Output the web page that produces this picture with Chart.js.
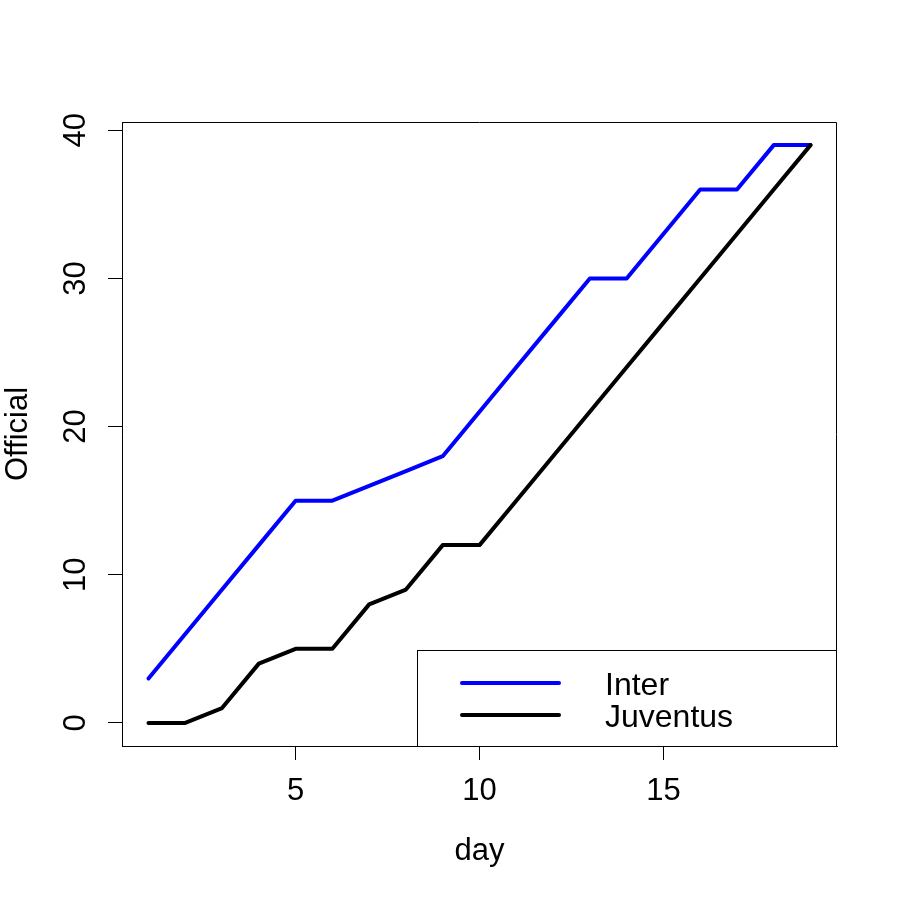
<!DOCTYPE html>
<html>
<head>
<meta charset="utf-8">
<script src="https://cdn.jsdelivr.net/npm/chart.js@4/dist/chart.umd.min.js"></script>
<style>
  html, body { margin: 0; padding: 0; background: #ffffff; }
  #wrap { width: 900px; height: 900px; }
</style>
</head>
<body>
<div id="wrap"><canvas id="c" width="900" height="900"></canvas></div>
<script>
// ---- data ----
const days = [1, 2, 3, 4, 5, 6, 7, 8, 9, 10, 11, 12, 13, 14, 15, 16, 17, 18, 19];
const interPoints = [3, 6, 9, 12, 15, 15, 16, 17, 18, 21, 24, 27, 30, 30, 33, 36, 36, 39, 39];
const juventusPoints = [0, 0, 1, 4, 5, 5, 8, 9, 12, 12, 15, 18, 21, 24, 27, 30, 33, 36, 39];
const seriesNames = ['Inter', 'Juventus'];
const xTickValues = [5, 10, 15];
const yTickValues = [0, 10, 20, 30, 40];
const xAxisTitle = 'day';
const yAxisTitle = 'Official';

// ---- style ----
const FONT = '"Liberation Sans", Arial, Helvetica, sans-serif';
const axisFont = { family: FONT, size: 31 };

// R-style 4% range extension
function extend(lo, hi) { const d = (hi - lo) * 0.04; return [lo - d, hi + d]; }
const xr = extend(Math.min(...days), Math.max(...days));
const allY = interPoints.concat(juventusPoints);
const yr = extend(Math.min(...allY), Math.max(...allY));

const boxPlugin = {
  id: 'rbox',
  afterDatasetsDraw(chart) {
    const { ctx, chartArea: ca } = chart;
    ctx.save();
    ctx.strokeStyle = '#000';
    ctx.lineWidth = 1;
    ctx.beginPath();
    const l = Math.round(ca.left) + 0.5, t = Math.round(ca.top) + 0.5;
    const r = Math.round(ca.right) - 0.5, b = Math.round(ca.bottom) + 0.5;
    ctx.rect(l, t, r - l, b - t);
    ctx.stroke();
    ctx.restore();
  }
};

const legendPlugin = {
  id: 'rlegend',
  afterDraw(chart) {
    const { ctx, chartArea: ca } = chart;
    const w = 420, h = 96;
    const left = Math.round(ca.right) - w, top = Math.round(ca.bottom) - h;
    ctx.save();
    ctx.strokeStyle = '#000';
    ctx.lineWidth = 1;
    ctx.strokeRect(left + 0.5, top + 0.5, w - 1, h);
    chart.data.datasets.forEach((ds, i) => {
      const y = top + 33 + i * 32;
      ctx.strokeStyle = ds.borderColor;
      ctx.lineWidth = 4;
      ctx.lineCap = 'round';
      ctx.beginPath();
      ctx.moveTo(left + 45, y);
      ctx.lineTo(left + 142, y);
      ctx.stroke();
      ctx.fillStyle = '#000';
      ctx.font = '32px ' + FONT;
      ctx.textBaseline = 'alphabetic';
      ctx.textAlign = 'left';
      ctx.fillText(ds.label, left + 188, y + 12);
    });
    ctx.restore();
  }
};

const ctx = document.getElementById('c').getContext('2d');
new Chart(ctx, {
  type: 'line',
  data: {
    datasets: [
      {
        label: seriesNames[0],
        data: days.map((d, i) => ({ x: d, y: interPoints[i] })),
        borderColor: '#0000ff',
        backgroundColor: '#0000ff',
        borderWidth: 4,
        pointRadius: 0,
        tension: 0,
        borderCapStyle: 'round',
        borderJoinStyle: 'round',
        fill: false,
        order: 1
      },
      {
        label: seriesNames[1],
        data: days.map((d, i) => ({ x: d, y: juventusPoints[i] })),
        borderColor: '#000000',
        backgroundColor: '#000000',
        borderWidth: 4,
        pointRadius: 0,
        tension: 0,
        borderCapStyle: 'round',
        borderJoinStyle: 'round',
        fill: false,
        order: 0
      }
    ]
  },
  options: {
    responsive: false,
    animation: false,
    devicePixelRatio: 1,
    layout: { padding: { top: 122, right: 63, left: 0, bottom: 0 } },
    plugins: { legend: { display: false }, tooltip: { enabled: false } },
    scales: {
      x: {
        type: 'linear',
        min: xr[0],
        max: xr[1],
        afterBuildTicks: s => { s.ticks = xTickValues.map(v => ({ value: v })); },
        afterFit: s => { s.height = 154; },
        grid: { display: true, drawOnChartArea: false, drawTicks: true, tickLength: 14, color: '#000', lineWidth: 1 },
        border: { display: true, color: '#000', width: 1 },
        ticks: { font: axisFont, color: '#000', padding: 13, maxRotation: 0, minRotation: 0, autoSkip: false },
        title: { display: true, text: xAxisTitle, font: axisFont, color: '#000', padding: { top: 0, bottom: 30 } }
      },
      y: {
        type: 'linear',
        min: yr[0],
        max: yr[1],
        afterBuildTicks: s => { s.ticks = yTickValues.map(v => ({ value: v })); },
        afterFit: s => { s.width = 122; },
        grid: { display: true, drawOnChartArea: false, drawTicks: true, tickLength: 14, color: '#000', lineWidth: 1 },
        border: { display: true, color: '#000', width: 1 },
        ticks: { font: axisFont, color: '#000', padding: 14, minRotation: 90, maxRotation: 90, crossAlign: 'center', autoSkip: false },
        title: { display: true, text: yAxisTitle, font: axisFont, color: '#000', padding: 0 }
      }
    }
  },
  plugins: [boxPlugin, legendPlugin]
});
</script>
</body>
</html>
